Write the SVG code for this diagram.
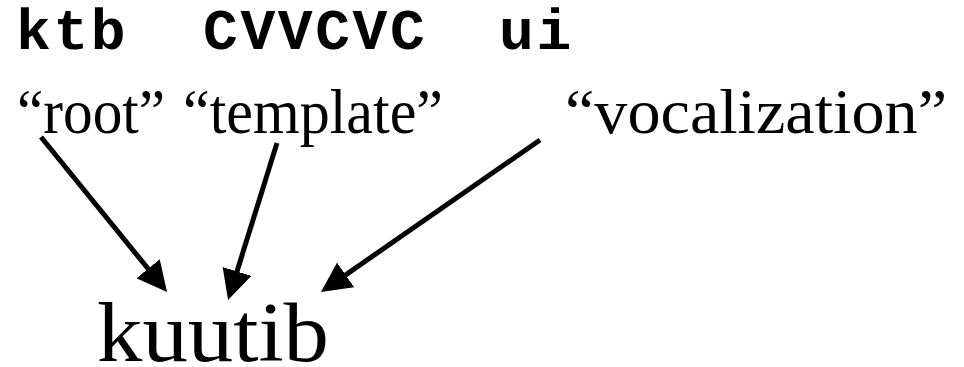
<svg xmlns="http://www.w3.org/2000/svg" width="964" height="367" viewBox="0 0 964 367">
  <style>
    .code { font-family: "Liberation Mono", "Courier New", monospace; font-weight: bold; font-size: 58px; letter-spacing: 2.6px; fill: #000; }
    .gloss { font-family: "Liberation Serif", "Times New Roman", serif; font-size: 63px; fill: #000; }
    .word { font-family: "Liberation Serif", "Times New Roman", serif; font-size: 84px; fill: #000; }
    .conn { stroke: #000; stroke-width: 5; fill: none; marker-end: url(#head); }
  </style>
  <defs>
    <marker id="head" markerUnits="userSpaceOnUse" viewBox="0 0 30 30" refX="10" refY="15" markerWidth="30" markerHeight="30" orient="auto">
      <path d="M0,0 L30,15 L0,30 z" fill="#000"/>
    </marker>
  </defs>
  <rect width="964" height="367" fill="#fff"/>

  <g id="root">
    <text class="code" x="16" y="49">ktb</text>
    <text class="gloss" x="17" y="133" textLength="148" lengthAdjust="spacingAndGlyphs">“root”</text>
  </g>
  <g id="template">
    <text class="code" x="203" y="49">CVVCVC</text>
    <text class="gloss" x="183" y="133" textLength="260" lengthAdjust="spacingAndGlyphs">“template”</text>
  </g>
  <g id="vocalization">
    <text class="code" x="499" y="49">ui</text>
    <text class="gloss" x="565" y="133" textLength="382" lengthAdjust="spacingAndGlyphs">“vocalization”</text>
  </g>
  <g id="kuutib">
    <text class="word" x="97" y="361" textLength="232" lengthAdjust="spacingAndGlyphs">kuutib</text>
  </g>

  <g id="connectors">
    <line class="conn" x1="41" y1="137" x2="154.4" y2="276.5"/>
    <line class="conn" x1="277" y1="143" x2="234" y2="281"/>
    <line class="conn" x1="540" y1="140" x2="337.4" y2="280.6"/>
  </g>
</svg>
